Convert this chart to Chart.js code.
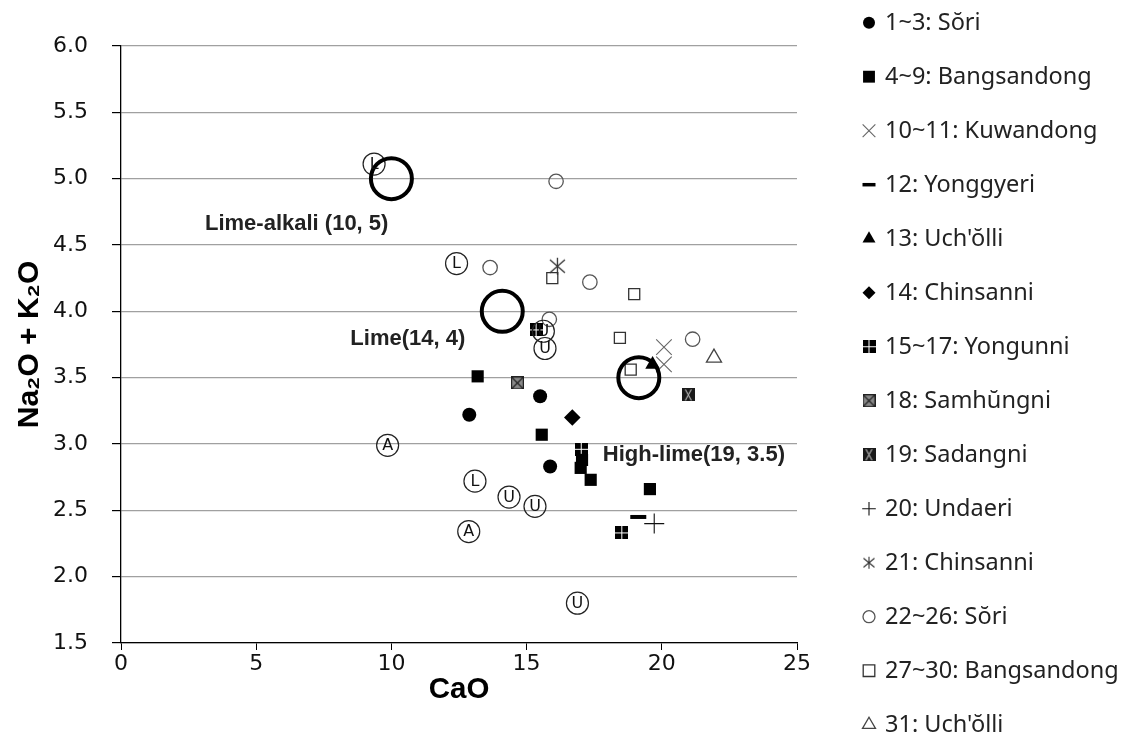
<!DOCTYPE html>
<html><head><meta charset="utf-8">
<style>html,body{margin:0;padding:0;background:#fff;overflow:hidden}</style>
<script src="https://cdn.jsdelivr.net/npm/chart.js"></script>
</head><body>
<canvas id="c" width="1131" height="736"></canvas>
<script>
// ---------------- data ----------------
const seriesLabels = ['1~3: Sŏri','4~9: Bangsandong','10~11: Kuwandong','12: Yonggyeri',"13: Uch'ŏlli",
  '14: Chinsanni','15~17: Yongunni','18: Samhŭngni','19: Sadangni','20: Undaeri','21: Chinsanni',
  '22~26: Sŏri','27~30: Bangsandong',"31: Uch'ŏlli"];
const sori1 = [[12.88,3.22],[15.50,3.36],[15.87,2.83]];
const bangsandong1 = [[13.19,3.51],[15.56,3.07],[17.05,2.88],[17.00,2.82],[17.37,2.73],[19.56,2.66]];
const kuwandong = [[20.08,3.73],[20.08,3.60]];
const yonggyeri = [[19.13,2.45]];
const uchulli1 = [[19.66,3.60]];
const chinsanni1 = [[16.69,3.20]];
const yongunni = [[15.35,3.86],[17.02,2.96],[18.52,2.33]];
const samhungni = [[14.66,3.46]];
const sadangni = [[20.98,3.37]];
const undaeri = [[19.72,2.40]];
const chinsanni2 = [[16.14,4.34]];
const sori2 = [[16.09,4.98],[13.65,4.33],[17.34,4.22],[21.14,3.79],[15.84,3.94]];
const bangsandong2 = [[15.95,4.25],[18.98,4.13],[18.45,3.80],[18.85,3.56]];
const uchulli2 = [[21.93,3.65]];
const circledLetters = ['L','L','L','U','U','U','U','U','A','A'];
const circledX = [9.36,12.41,13.09,15.68,15.62,14.35,15.31,16.88,9.86,12.86];
const circledY = [5.11,4.36,2.72,3.72,3.85,2.60,2.53,1.80,2.99,2.34];
const refX = [10.0,14.1,19.15];
const refY = [5.0,4.0,3.5];
const refLabels = ['Lime-alkali (10, 5)','Lime(14, 4)','High-lime(19, 3.5)'];
const xTicks = [0,5,10,15,20,25];
const yTicks = [1.5,2.0,2.5,3.0,3.5,4.0,4.5,5.0,5.5,6.0];
const xTitle = 'CaO';
const yTitle = 'Na₂O + K₂O';

// ---------------- marker images ----------------
function makeCanvas(w,h,draw){const c=document.createElement('canvas');c.width=w;c.height=h;draw(c.getContext('2d'),w,h);return c;}
const yongunniImg = makeCanvas(13,13,(g,w,h)=>{g.fillStyle='#000';g.fillRect(0,0,w,h);g.fillStyle='#fff';g.fillRect(6,0,1,h);g.fillRect(0,6,w,1);});
const samhungniImg = makeCanvas(13,13,(g,w,h)=>{g.fillStyle='#8a8a8a';g.fillRect(0,0,w,h);g.strokeStyle='#222';g.lineWidth=1.2;
  g.strokeRect(0.6,0.6,w-1.2,h-1.2);g.beginPath();g.moveTo(1,1);g.lineTo(w-1,h-1);g.moveTo(w-1,1);g.lineTo(1,h-1);g.stroke();});
const sadangniImg = makeCanvas(13,13,(g,w,h)=>{g.fillStyle='#1a1a1a';g.fillRect(0,0,w,h);g.strokeStyle='#ddd';g.lineWidth=1;
  g.beginPath();g.moveTo(3.5,1);g.lineTo(9.5,12);g.moveTo(9.5,1);g.lineTo(3.5,12);g.stroke();});
const asteriskImg = makeCanvas(19,19,(g,w,h)=>{g.strokeStyle='#333';g.lineWidth=1.3;g.beginPath();
  g.moveTo(9.5,1);g.lineTo(9.5,18);g.moveTo(2,3);g.lineTo(17,16);g.moveTo(17,3);g.lineTo(2,16);g.stroke();});
const asteriskSmall = makeCanvas(14,14,(g,w,h)=>{g.strokeStyle='#333';g.lineWidth=1.1;g.beginPath();
  g.moveTo(7,1);g.lineTo(7,13);g.moveTo(1.5,2.5);g.lineTo(12.5,11.5);g.moveTo(12.5,2.5);g.lineTo(1.5,11.5);g.stroke();});

const pts = a => a.map(p=>({x:p[0],y:p[1]}));
function ds(i,data,o){return Object.assign({label:seriesLabels[i],data:pts(data),inLegend:true,showLine:false,order:5},o);}

const datasets = [
  ds(0,sori1,{pointStyle:'circle',pointRadius:7,backgroundColor:'#000',borderColor:'#000',borderWidth:0,legendRadius:6}),
  ds(1,bangsandong1,{pointStyle:'rect',pointRadius:8.6,backgroundColor:'#000',borderColor:'#000',borderWidth:0,legendRadius:8.4}),
  ds(2,kuwandong,{pointStyle:'crossRot',pointRadius:11,backgroundColor:'#666',borderColor:'#666',borderWidth:1.1,legendRadius:9}),
  ds(3,yonggyeri,{pointStyle:'line',pointRadius:8,backgroundColor:'#000',borderColor:'#000',borderWidth:4,legendRadius:6.5,legendBorder:3.5}),
  ds(4,uchulli1,{pointStyle:'triangle',pointRadius:8.5,backgroundColor:'#000',borderColor:'#000',borderWidth:0,legendRadius:7.5}),
  ds(5,chinsanni1,{pointStyle:'rectRot',pointRadius:8.3,backgroundColor:'#000',borderColor:'#000',borderWidth:0,legendRadius:6.5}),
  ds(6,yongunni,{pointStyle:yongunniImg,pointRadius:7,backgroundColor:'#000',borderColor:'#000',borderWidth:0}),
  ds(7,samhungni,{pointStyle:samhungniImg,pointRadius:7,backgroundColor:'#000',borderColor:'#000',borderWidth:0}),
  ds(8,sadangni,{pointStyle:sadangniImg,pointRadius:7,backgroundColor:'#000',borderColor:'#000',borderWidth:0}),
  ds(9,undaeri,{pointStyle:'cross',pointRadius:10,backgroundColor:'#000',borderColor:'#111',borderWidth:1.1,legendRadius:6.8}),
  ds(10,chinsanni2,{pointStyle:asteriskImg,pointRadius:9,backgroundColor:'#333',borderColor:'#333',borderWidth:0,legendImg:asteriskSmall}),
  ds(11,sori2,{pointStyle:'circle',pointRadius:7.2,backgroundColor:'rgba(255,255,255,0)',borderColor:'#555',borderWidth:1.3,legendRadius:6}),
  ds(12,bangsandong2,{pointStyle:'rect',pointRadius:7.8,backgroundColor:'rgba(255,255,255,0)',borderColor:'#333',borderWidth:1.3,legendRadius:8.2}),
  ds(13,uchulli2,{pointStyle:'triangle',pointRadius:8.7,backgroundColor:'rgba(255,255,255,0)',borderColor:'#444',borderWidth:1.3,legendRadius:7.5}),
  {label:'circled',inLegend:false,order:3,data:circledX.map((x,i)=>({x,y:circledY[i]})),pointStyle:'circle',pointRadius:11,
   backgroundColor:'rgba(255,255,255,0)',borderColor:'#222',borderWidth:1.2},
  {label:'reference',inLegend:false,order:0,data:refX.map((x,i)=>({x,y:refY[i]})),pointStyle:'circle',pointRadius:20.5,
   backgroundColor:'rgba(255,255,255,0)',borderColor:'#000',borderWidth:4}
];
const CIRCLED_INDEX = 14, REF_INDEX = 15;

// ---------------- plugins ----------------
const textPlugin = {
  id:'texts',
  afterDatasetsDraw(chart){
    const ctx = chart.ctx;
    ctx.save();
    ctx.fillStyle = '#111';
    ctx.font = '16px "DejaVu Sans"';
    ctx.textAlign = 'center'; ctx.textBaseline = 'middle';
    chart.getDatasetMeta(CIRCLED_INDEX).data.forEach((el,i)=>{ ctx.fillText(circledLetters[i], el.x, el.y+0.5); });
    const offs = [[-3,45,'right'],[-37,28,'right'],[-36,77,'left']];
    ctx.font = 'bold 22px "Liberation Sans"';
    ctx.fillStyle = '#222';
    chart.getDatasetMeta(REF_INDEX).data.forEach((el,i)=>{
      ctx.textAlign = offs[i][2];
      ctx.fillText(refLabels[i], el.x + offs[i][0], el.y + offs[i][1]);
    });
    ctx.restore();
  }
};
const legendPlugin = {
  id:'sideLegend',
  afterDraw(chart){
    const ctx = chart.ctx;
    const items = chart.data.datasets.filter(d=>d.inLegend);
    items.forEach((d,i)=>{
      const y = 22.7 + i*54.0, x = 869;
      ctx.save();
      ctx.fillStyle = d.backgroundColor; ctx.strokeStyle = d.borderColor;
      const bw = d.legendBorder ?? d.borderWidth;
      ctx.lineWidth = bw;
      const style = d.legendImg || d.pointStyle;
      Chart.helpers.drawPoint(ctx,{pointStyle:style,radius:d.legendRadius ?? d.pointRadius,rotation:0,borderWidth:bw},x,y);
      ctx.restore();
      ctx.save();
      ctx.fillStyle = '#222'; ctx.font = '23.5px "Noto Sans"'; ctx.textAlign='left'; ctx.textBaseline='middle';
      ctx.fillText(d.label, 885, y+1);
      ctx.restore();
    });
  }
};

new Chart(document.getElementById('c'),{
  type:'scatter',
  data:{datasets},
  plugins:[textPlugin,legendPlugin],
  options:{
    responsive:false, animation:false, devicePixelRatio:1, events:[],
    layout:{padding:{top:46,right:334,bottom:0,left:0}},
    plugins:{legend:{display:false},tooltip:{enabled:false}},
    scales:{
      x:{type:'linear',min:0,max:25,
        afterBuildTicks:s=>{s.ticks = xTicks.map(v=>({value:v}));},
        afterFit:s=>{s.height = 93;},
        ticks:{autoSkip:false,maxRotation:0,font:{family:'DejaVu Sans',size:22},color:'#111',padding:1,callback:v=>String(v)},
        grid:{drawOnChartArea:false,tickLength:7,tickColor:'#000',color:'#000'},
        border:{color:'#000',width:1.3},
        title:{display:true,text:xTitle,font:{family:'Liberation Sans',size:29.5,weight:'bold'},color:'#000',padding:{top:0,bottom:28}}
      },
      y:{type:'linear',min:1.5,max:6,
        afterBuildTicks:s=>{s.ticks = yTicks.map(v=>({value:v}));},
        afterFit:s=>{s.width = 121;},
        ticks:{autoSkip:false,font:{family:'DejaVu Sans',size:22},color:'#111',padding:24,callback:v=>Number(v).toFixed(1)},
        grid:{color:'#a0a0a0',lineWidth:1.2,tickLength:9,tickColor:'#000'},
        border:{color:'#000',width:1.3},
        title:{display:true,text:yTitle,font:{family:'Liberation Sans',size:30,weight:'bold'},color:'#000',padding:{top:12,bottom:0}}
      }
    }
  }
});
</script>
</body></html>
